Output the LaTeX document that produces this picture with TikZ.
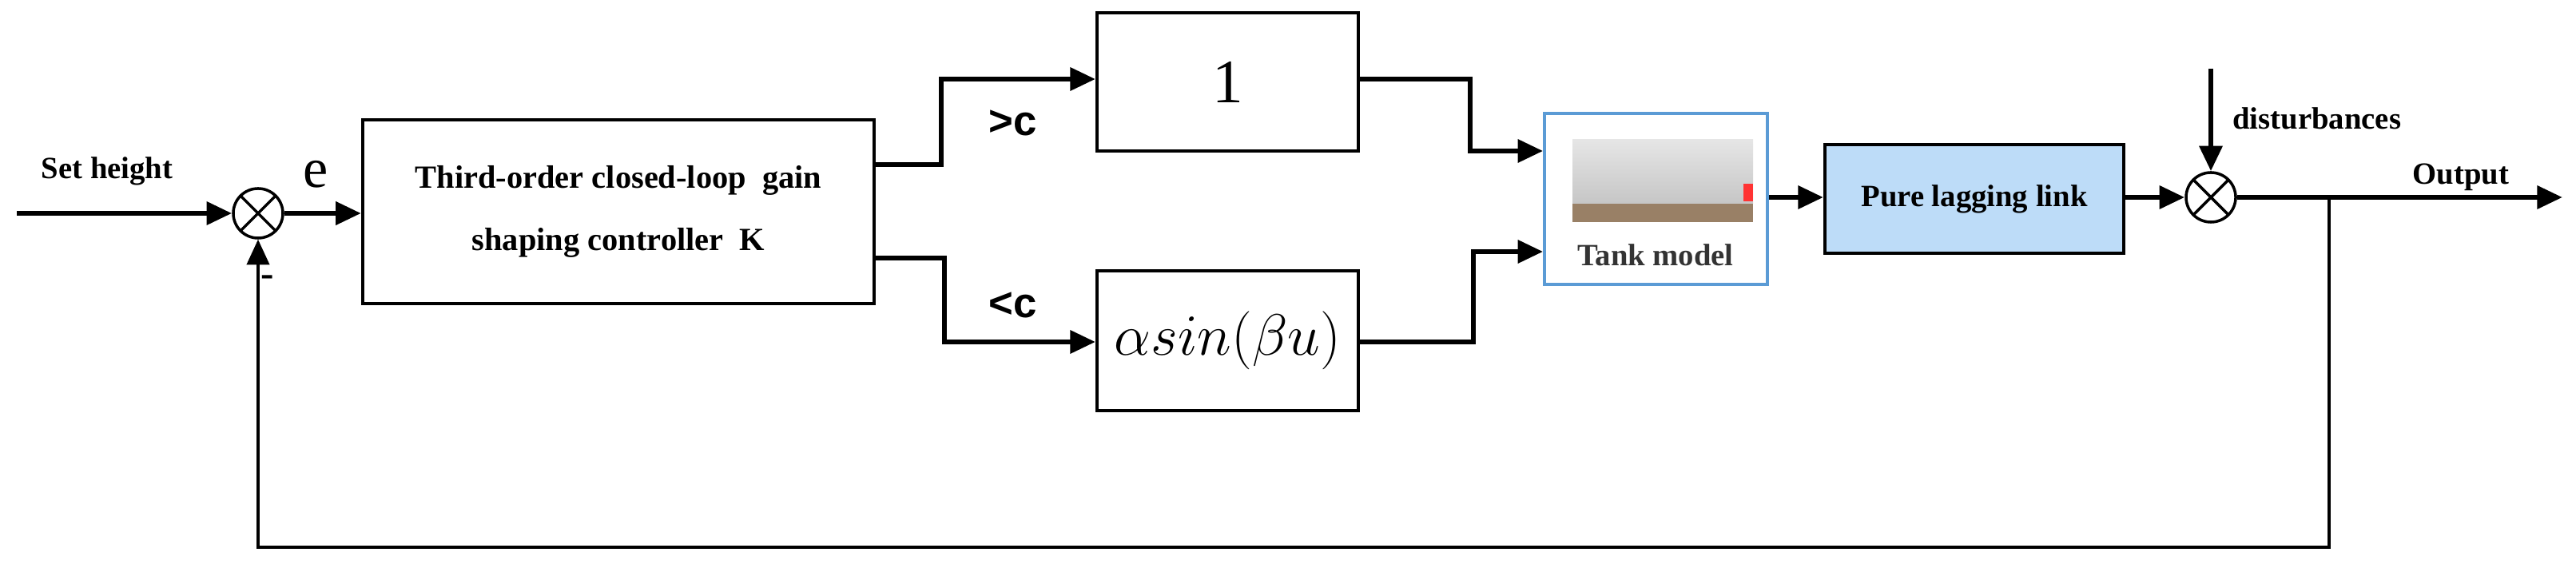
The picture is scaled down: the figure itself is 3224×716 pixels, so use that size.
\documentclass[tikz,border=0pt]{standalone}
\usepackage{fontspec}
\setmainfont{Liberation Serif}
\newfontfamily\lsans{Liberation Sans}
\usetikzlibrary{arrows.meta}
\definecolor{plfill}{HTML}{BDDCF8}
\definecolor{tankblue}{HTML}{5B9BD5}
\begin{document}
\begin{tikzpicture}[x=0.01cm,y=-0.01cm,
  sig/.style={line width=1.8pt,-{Triangle[length=9pt,width=8pt]}},
  fb/.style={line width=1.1pt},
  blk/.style={draw,line width=1.1pt,rectangle,inner sep=0pt},
  sumc/.style={draw,circle,line width=1pt,minimum size=0.62cm,inner sep=0pt,
     path picture={\draw[line width=1pt] (path picture bounding box.north west)--(path picture bounding box.south east)
       (path picture bounding box.north east)--(path picture bounding box.south west);}},
  lab/.style={font=\bfseries\fontsize{11}{13}\selectfont}]
\useasboundingbox (0,0) rectangle (3224,716);
\node[sumc] (s1) at (323,267) {};
\node[sumc] (s2) at (2767,247) {};
\coordinate (in) at (21,267);
\node[blk,minimum width=6.4cm,minimum height=2.3cm,align=center,lab,font=\bfseries\fontsize{11.5}{22}\selectfont] (K) at (774,265) {Third-order closed-loop\ \ gain\\shaping controller\ \ K};
\node[blk,minimum width=3.27cm,minimum height=1.73cm,font=\fontsize{22}{24}\selectfont] (one) at (1536.5,102.5) {1};
\node[blk,minimum width=3.27cm,minimum height=1.75cm,font=\fontsize{20}{24}\selectfont] (alp) at (1536.5,426.5) {$\alpha sin(\beta u)$};
\node[draw=tankblue,line width=1pt,minimum width=2.79cm,minimum height=2.14cm] (tank) at (2072.5,249) {};
\shade[top color=gray!20,bottom color=gray!45] (1968,175) rectangle (2194,255);
\fill[brown!40!gray] (1968,255) rectangle (2194,278);
\fill[red!80] (2182,230) rectangle (2194,252);
\node[font=\fontsize{11}{13}\bfseries\selectfont,text=black!80] (tl) at (2072,319) {Tank model};
\node[blk,fill=plfill,minimum width=3.74cm,minimum height=1.36cm,lab] (pl) at (2471,249) {Pure lagging link};
\coordinate (dtop) at (2767,86);
\coordinate (out) at (3207,247);
\coordinate (tap) at (2915,247);
% signals
\draw[sig] (in) -- (s1);
\draw[sig] (s1) -- (K.west|-s1);
\draw[sig] (K.east|-0,206) -| (1178,99) -- (one.west|-0,99);
\draw[sig] (K.east|-0,323) -| (1182,428) -- (alp.west|-0,428);
\draw[sig] (one.east|-0,99) -| (1840,189) -- (tank.west|-0,189);
\draw[sig] (alp.east|-0,428) -| (1844,315) -- (tank.west|-0,315);
\draw[sig] (tank.east|-0,247) -- (pl.west|-0,247);
\draw[sig] (pl.east|-0,247) -- (s2);
\draw[sig] (dtop) -- (s2);
\draw[sig] (s2) -- (out);
\draw[fb,-{Triangle[length=9pt,width=8pt]}] (tap) -- (2915,685) -- (323,685) -- (s1);
% labels
\node[lab] at (134,214) {Set height};
\node[font=\fontsize{20}{22}\selectfont] at (395,218) {e};
\node[font=\bfseries\fontsize{14}{16}\selectfont] at (335,352) {-};
\node[font=\lsans\bfseries\fontsize{15}{17}\selectfont] at (1268,154) {>c};
\node[font=\lsans\bfseries\fontsize{15}{17}\selectfont] at (1268,382) {<c};
\node[lab,anchor=west] at (2782,148) {disturbances};
\node[lab] at (3080,222) {Output};
\end{tikzpicture}
\end{document}
